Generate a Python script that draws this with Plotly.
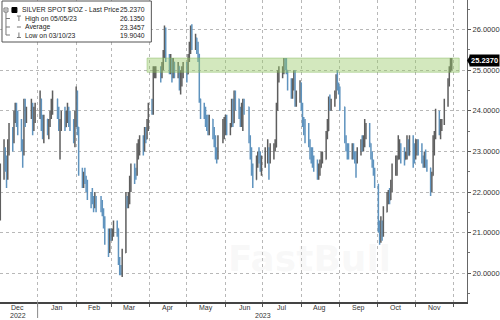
import pandas as pd
import plotly.graph_objects as go

# ---------------- data ----------------
holidays = ["2022-12-26", "2023-01-02", "2023-01-16", "2023-02-20", "2023-04-07",
            "2023-05-29", "2023-06-19", "2023-07-04", "2023-09-04", "2023-11-23"]
bdays = pd.bdate_range("2022-12-02", "2023-11-30")
dates = [d for d in bdays if d.strftime("%Y-%m-%d") not in holidays]

opens_m = [
    [21.5,22.5,23.0,22.7,22.4,23.1,23.5,23.3,23.9,24.0,23.7,23.6,23.1,23.0,24.1,23.8,23.9,24.1,23.6,23.9],
    [24.0,24.3,23.7,23.4,23.8,23.6,23.7,23.9,24.2,24.3,23.9,23.6,23.7,23.9,23.6,23.9,23.9,23.8,23.6,23.4],
    [23.9,24.2,23.6,22.5,22.3,22.4,22.3,22.1,21.9,21.9,21.8,21.7,21.9,21.7,21.6,21.5,21.2,20.8,20.6],
    [21.0,20.9,21.0,21.2,21.1,20.3,20.1,20.0,20.5,21.8,21.7,21.9,22.2,22.6,22.5,22.5,23.0,23.1,23.2,23.1,23.5,23.3,23.6],
    [24.1,24.0,25.0,25.0,25.0,24.9,25.1,25.4,25.9,25.3,25.1,25.2,25.0,25.2,25.0,25.1,24.7,24.9,25.0],
    [25.0,24.9,25.3,25.5,26.0,25.6,25.8,25.6,25.4,24.3,24.0,24.0,23.7,23.7,23.5,23.8,23.5,23.2,23.0,22.9,23.3,23.4],
    [23.6,23.8,23.5,23.6,24.2,23.7,24.4,24.3,23.9,23.7,24.0,24.2,24.1,23.3,23.0,22.5,22.3,22.8,22.9,22.8,22.6],
    [22.8,22.9,23.0,22.8,23.1,23.1,23.1,24.1,24.9,24.9,25.0,25.2,25.1,25.0,24.6,24.4,24.7,24.9,24.2,24.3],
    [24.7,24.1,23.7,23.6,23.6,23.2,22.9,22.9,22.7,22.7,22.5,22.6,22.6,22.8,22.8,23.4,23.5,24.2,24.1,24.2,24.3,24.8,24.6],
    [24.5,24.1,23.3,23.1,23.0,23.0,23.1,22.9,22.9,22.8,23.0,23.2,23.1,23.3,23.5,23.6,23.2,22.9,22.7,22.5],
    [22.2,21.1,20.8,21.2,21.0,21.5,21.9,21.9,21.8,22.1,22.6,22.6,22.8,23.0,23.1,22.9,22.8,22.9,23.0,22.9,23.2,23.1],
    [22.9,23.0,23.2,23.1,22.8,22.7,22.9,22.7,22.6,22.0,22.4,23.3,23.4,23.9,23.6,23.7,23.7,24.2,24.7,25.0,25.1],
]
highs_m = [
    [22.7,23.3,23.1,22.9,23.3,23.7,23.6,24.0,24.2,24.2,24.0,23.8,23.3,24.3,24.3,24.1,24.3,24.2,24.1,24.2],
    [24.5,24.3,23.9,23.9,23.8,23.8,24.0,24.3,24.5,24.3,24.1,23.8,24.0,24.1,24.0,24.2,24.1,24.0,23.8,24.0],
    [24.6,24.5,23.6,22.6,22.5,22.6,22.4,22.3,22.0,22.1,21.9,22.0,21.9,21.9,21.8,21.6,21.4,21.1,21.1],
    [21.1,21.1,21.3,21.3,21.1,20.4,20.2,20.6,22.0,21.9,22.0,22.4,22.7,22.7,22.6,23.2,23.3,23.4,23.4,23.6,23.6,23.8,24.2],
    [24.3,25.1,25.1,25.1,25.1,25.2,25.5,26.1,26.05,25.4,25.4,25.3,25.3,25.2,25.2,25.1,25.0,25.1,25.2],
    [25.2,25.4,25.7,26.1,26.135,25.9,25.8,25.7,25.4,24.3,24.2,24.1,23.9,23.9,23.9,23.8,23.6,23.4,23.1,23.4,23.8,23.85],
    [23.9,23.9,23.7,24.3,24.3,24.5,24.5,24.3,24.1,24.2,24.3,24.3,24.1,23.4,23.1,22.7,22.9,23.0,23.1,23.0,22.9],
    [23.1,23.3,23.1,23.2,23.2,23.3,24.2,25.0,25.1,25.1,25.3,25.3,25.3,25.0,24.8,24.8,25.0,25.0,24.5,24.75],
    [24.7,24.2,23.85,23.8,23.7,23.3,23.1,23.1,22.9,22.8,22.7,22.8,23.0,23.0,23.5,23.8,24.35,24.4,24.3,24.5,24.9,25.0,24.7],
    [24.6,24.1,23.4,23.2,23.2,23.2,23.2,23.0,23.0,23.1,23.3,23.4,23.4,23.8,23.7,23.7,23.2,23.0,22.8,22.6],
    [22.2,21.3,21.4,21.3,21.65,22.0,22.05,22.1,22.3,22.7,22.9,22.9,23.4,23.3,23.2,23.1,23.0,23.4,23.3,23.4,23.4,23.2],
    [23.3,23.3,23.3,23.2,22.9,23.0,23.05,22.8,22.6,22.5,23.4,23.5,24.05,24.0,23.8,23.8,24.3,24.8,25.1,25.3,25.3],
]
lows_m = [
    [21.3,22.3,22.5,22.1,22.3,22.9,23.0,23.2,23.7,23.6,23.4,23.0,22.6,22.9,23.6,23.7,23.8,23.4,23.5,23.7],
    [23.8,23.5,23.3,23.2,23.4,23.3,23.6,23.8,23.9,23.8,23.5,22.8,23.5,23.5,23.6,23.7,23.6,23.5,23.2,23.1],
    [23.6,23.4,22.4,22.1,22.1,22.2,22.0,21.8,21.6,21.7,21.5,21.6,21.5,21.5,21.4,21.1,20.7,20.4,20.5],
    [20.8,20.8,20.9,20.9,20.2,19.95,19.95,19.904,20.5,21.6,21.6,21.7,22.0,22.2,22.3,22.4,22.8,22.9,22.9,23.0,23.2,23.3,23.5],
    [23.9,23.9,24.8,24.8,24.7,24.8,25.0,25.3,25.2,24.9,24.9,24.7,24.8,24.8,24.8,24.5,24.4,24.6,24.8],
    [24.7,24.9,25.2,25.4,25.5,25.5,25.4,25.2,24.2,23.8,23.8,23.6,23.5,23.4,23.4,23.3,23.1,22.8,22.7,22.8,23.2,23.3],
    [23.4,23.4,23.4,23.6,23.6,23.7,24.0,23.8,23.6,23.6,23.5,23.9,23.2,22.8,22.4,22.1,22.3,22.6,22.7,22.5,22.4],
    [22.6,22.7,22.3,22.7,22.8,23.0,23.1,24.0,24.7,24.8,24.9,25.0,24.9,24.5,24.3,24.3,24.5,24.1,24.1,24.2],
    [24.0,23.6,23.4,23.2,23.1,22.8,22.7,22.6,22.5,22.3,22.3,22.4,22.6,22.7,22.8,23.3,23.5,24.0,24.0,24.1,24.3,24.5,24.4],
    [24.0,23.2,23.0,22.8,22.8,22.8,22.8,22.7,22.35,22.7,22.9,23.0,23.0,23.1,23.3,23.1,22.8,22.6,22.4,22.1],
    [21.0,20.7,20.75,20.8,20.9,21.5,21.7,21.7,21.8,22.0,22.4,22.4,22.8,22.8,22.7,22.65,22.8,22.8,22.9,22.9,22.6,22.7],
    [22.8,22.9,22.9,22.7,22.6,22.6,22.6,22.5,21.9,22.0,22.4,22.9,23.3,23.4,23.3,23.5,23.65,24.1,24.6,24.95,25.0],
]
closes_m = [
    [22.5,23.0,22.7,22.4,23.1,23.5,23.3,23.9,24.0,23.7,23.6,23.1,23.0,24.1,23.8,23.9,24.1,23.6,23.9,24.0],
    [24.3,23.7,23.4,23.8,23.6,23.7,23.9,24.2,24.3,23.9,23.6,23.7,23.9,23.6,23.9,23.9,23.8,23.6,23.4,23.9],
    [24.2,23.6,22.5,22.3,22.4,22.3,22.1,21.9,21.9,21.8,21.7,21.9,21.7,21.6,21.5,21.2,20.8,20.6,21.0],
    [20.9,21.0,21.2,21.1,20.3,20.1,20.0,20.5,21.8,21.7,21.9,22.2,22.6,22.5,22.5,23.0,23.1,23.2,23.1,23.5,23.3,23.6,24.1],
    [24.0,25.0,25.0,25.0,24.9,25.1,25.4,25.9,25.3,25.1,25.2,25.0,25.2,25.0,25.1,24.7,24.9,25.0,25.0],
    [24.9,25.3,25.5,26.0,25.6,25.8,25.6,25.4,24.3,24.0,24.0,23.7,23.7,23.5,23.8,23.5,23.2,23.0,22.9,23.3,23.4,23.6],
    [23.8,23.5,23.6,24.2,23.7,24.4,24.3,23.9,23.7,24.0,24.2,24.1,23.3,23.0,22.5,22.3,22.8,22.9,22.8,22.6,22.8],
    [22.9,23.0,22.8,23.1,23.1,23.1,24.1,24.9,24.9,25.0,25.2,25.1,25.0,24.6,24.4,24.7,24.9,24.2,24.3,24.7],
    [24.1,23.7,23.6,23.6,23.2,22.9,22.9,22.7,22.7,22.5,22.6,22.6,22.8,22.8,23.4,23.5,24.2,24.1,24.2,24.3,24.8,24.6,24.5],
    [24.1,23.3,23.1,23.0,23.0,23.1,22.9,22.9,22.8,23.0,23.2,23.1,23.3,23.5,23.6,23.2,22.9,22.7,22.5,22.2],
    [21.1,20.8,21.2,21.0,21.5,21.9,21.9,21.8,22.1,22.6,22.6,22.8,23.0,23.1,22.9,22.8,22.9,23.0,22.9,23.2,23.1,22.9],
    [23.0,23.2,23.1,22.8,22.7,22.9,22.7,22.6,22.0,22.4,23.3,23.4,23.9,23.6,23.7,23.7,24.2,24.7,25.0,25.1,25.237],
]

month_starts = ["2023-01-01", "2023-02-01", "2023-03-01", "2023-04-01", "2023-05-01", "2023-06-01",
                "2023-07-01", "2023-08-01", "2023-09-01", "2023-10-01", "2023-11-01", "2023-12-01"]
month_labels = ["Dec", "Jan", "Feb", "Mar", "Apr", "May", "Jun", "Jul", "Aug", "Sep", "Oct", "Nov"]
month_label_dates = ["2022-12-16", "2023-01-16", "2023-02-15", "2023-03-16", "2023-04-16", "2023-05-16",
                     "2023-06-16", "2023-07-16", "2023-08-16", "2023-09-16", "2023-10-16", "2023-11-16"]
y_ticks = [20, 21, 22, 23, 24, 25, 26]

legend_rows = [("SILVER SPOT $/OZ - Last Price", "25.2370"),
               ("High on 05/05/23", "26.1350"),
               ("Average", "23.3457"),
               ("Low on 03/10/23", "19.9040")]
last_price = 25.237
band_low, band_high = 24.95, 25.30

# --------------- checks ---------------
def flat(m):
    return [v for sub in m for v in sub]

opens, highs, lows, closes = flat(opens_m), flat(highs_m), flat(lows_m), flat(closes_m)
idx = pd.DatetimeIndex(dates)
mcount = pd.Series(1, index=idx).groupby(idx.to_period("M")).sum().tolist()
for name, m in [("o", opens_m), ("h", highs_m), ("l", lows_m), ("c", closes_m)]:
    lens = [len(s) for s in m]
    assert lens == mcount, (name, lens, mcount)

# --------------- figure ---------------
W, H = 500, 320
ML, MR, MT, MB = 0, 31, 0, 18
PW, PH = W - ML - MR, H - MT - MB

def px(x):  # pixel -> paper x
    return x / PW

def py(y):  # pixel -> paper y
    return 1 - y / PH

fig = go.Figure()
fig.add_trace(go.Ohlc(
    x=dates, open=opens, high=highs, low=lows, close=closes,
    increasing=dict(line=dict(color="#5e5e5e", width=1.5)),
    decreasing=dict(line=dict(color="#5f93be", width=1.5)),
    tickwidth=0.35, hoverinfo="skip", showlegend=False,
))

font = "Liberation Sans"
fig.update_layout(
    width=W, height=H, margin=dict(l=ML, r=MR, t=MT, b=MB),
    paper_bgcolor="white", plot_bgcolor="white", showlegend=False,
    font=dict(family=font, size=7.5, color="#333"),
    xaxis=dict(
        type="date", range=["2022-12-01 18:00", "2023-12-12 06:00"],
        rangeslider=dict(visible=False),
        tickmode="array", tickvals=month_starts, showticklabels=False,
        ticks="outside", ticklen=3, tickcolor="#555",
        showgrid=True, gridcolor="#b8b8b8", griddash="dot", gridwidth=1,
        showline=True, linecolor="#444", linewidth=1.5, zeroline=False,
    ),
    yaxis=dict(
        side="right", range=[19.29, 26.73],
        tickmode="array", tickvals=y_ticks, ticktext=[f"{v:.4f}" for v in y_ticks],
        ticks="outside", ticklen=3, tickcolor="#555",
        minor=dict(dtick=0.5, tick0=0, ticks="outside", ticklen=2, tickcolor="#777", showgrid=False),
        showgrid=True, gridcolor="#b8b8b8", griddash="dot", gridwidth=1,
        showline=True, linecolor="#666", linewidth=1, zeroline=False,
        tickfont=dict(size=7.5, color="#333"),
    ),
)

# green resistance band
fig.add_shape(type="rect", xref="x", yref="y", x0="2023-03-30", x1="2023-12-06",
              y0=band_low, y1=band_high, fillcolor="rgba(150,200,100,0.42)",
              line=dict(color="rgba(130,185,90,0.45)", width=1), layer="above")

# month labels and years
for d, lab in zip(month_label_dates, month_labels):
    fig.add_annotation(x=d, y=0, xref="x", yref="paper", text=lab, showarrow=False,
                       yanchor="top", yshift=0, font=dict(size=7, color="#333"))
fig.add_annotation(x=month_label_dates[0], y=0, xref="x", yref="paper", text="2022", showarrow=False,
                   yanchor="top", yshift=-7.5, font=dict(size=7, color="#333"))
fig.add_annotation(x="2023-07-01", y=0, xref="x", yref="paper", text="2023", showarrow=False,
                   yanchor="top", yshift=-7.5, font=dict(size=7, color="#333"))
fig.add_shape(type="line", xref="x", yref="paper", x0=month_starts[0], x1=month_starts[0],
              y0=0, y1=py(318), line=dict(color="#888", width=1))

# watermark
fig.add_annotation(x=px(395), y=py(281), xref="paper", yref="paper", text="<b>FastBull</b>",
                   showarrow=False, font=dict(size=36, color="rgba(200,200,200,0.12)", family="DejaVu Sans"))

# last price tag
fig.add_annotation(x=1, y=last_price, xref="paper", yref="y", text=f"<b>{last_price:.4f}</b>",
                   showarrow=False, xanchor="left", xshift=2, bgcolor="black", borderpad=1,
                   font=dict(size=7.5, color="white"))
fig.add_shape(type="path", xref="paper", yref="y", layer="above",
              path=f"M {px(469)} {last_price} L {px(472)} {last_price + 0.12} L {px(472)} {last_price - 0.12} Z",
              fillcolor="black", line=dict(width=0))

# legend box
fig.add_shape(type="rect", xref="paper", yref="paper", x0=px(2), x1=px(152), y0=py(42), y1=py(1),
              fillcolor="white", line=dict(color="#555", width=1), layer="above")
row_y = [10, 18.5, 27, 35]
for (lab, val), yy in zip(legend_rows, row_y):
    x_text = 20 if yy == row_y[0] else 23
    fig.add_annotation(x=px(x_text), y=py(yy), xref="paper", yref="paper", text=lab, showarrow=False,
                       xanchor="left", yanchor="middle", font=dict(size=6.8, color="#222"))
    fig.add_annotation(x=px(148), y=py(yy), xref="paper", yref="paper", text=val, showarrow=False,
                       xanchor="right", yanchor="middle", font=dict(size=6.8, color="#222"))
ic = dict(color="#777", width=1)
# collapse box + tree
fig.add_shape(type="rect", xref="paper", yref="paper", x0=px(4), x1=px(8), y0=py(12), y1=py(8), line=ic)
fig.add_shape(type="line", xref="paper", yref="paper", x0=px(4.8), x1=px(7.2), y0=py(10), y1=py(10), line=ic)
fig.add_shape(type="line", xref="paper", yref="paper", x0=px(6), x1=px(6), y0=py(35), y1=py(12), line=ic)
for yy in row_y[1:]:
    fig.add_shape(type="line", xref="paper", yref="paper", x0=px(6), x1=px(10), y0=py(yy), y1=py(yy), line=ic)
fig.add_shape(type="rect", xref="paper", yref="paper", x0=px(12), x1=px(17), y0=py(12.5), y1=py(7.5),
              fillcolor="black", line=dict(color="black", width=1))
# high / avg / low icons
fig.add_shape(type="line", xref="paper", yref="paper", x0=px(17), x1=px(21), y0=py(16), y1=py(16), line=ic)
fig.add_shape(type="line", xref="paper", yref="paper", x0=px(19), x1=px(19), y0=py(21), y1=py(16), line=ic)
fig.add_shape(type="line", xref="paper", yref="paper", x0=px(17), x1=px(21), y0=py(27), y1=py(27), line=ic)
fig.add_shape(type="line", xref="paper", yref="paper", x0=px(19), x1=px(19), y0=py(37.5), y1=py(32.5), line=ic)
fig.add_shape(type="line", xref="paper", yref="paper", x0=px(17), x1=px(21), y0=py(37.5), y1=py(37.5), line=ic)

fig.write_html("out.html")
